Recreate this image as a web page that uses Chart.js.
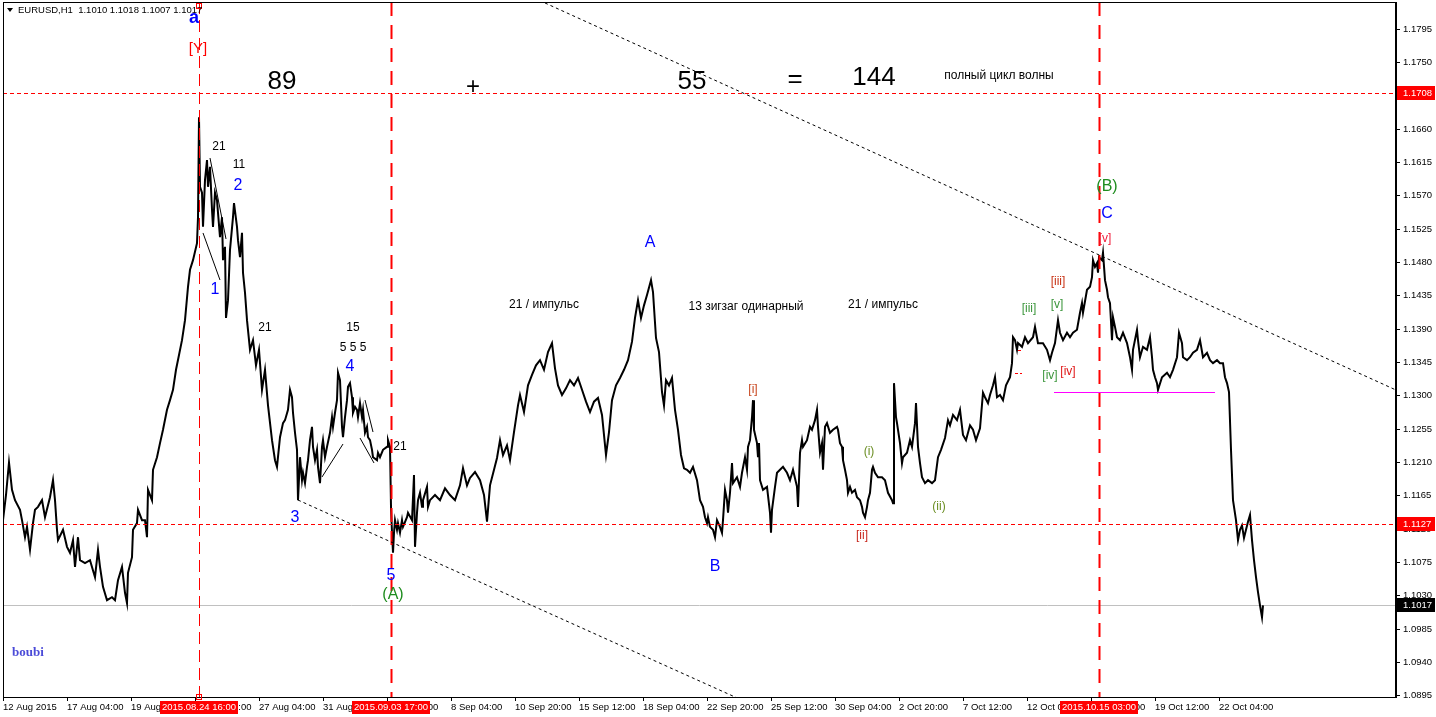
<!DOCTYPE html>
<html>
<head>
<meta charset="utf-8">
<script src="https://cdn.jsdelivr.net/npm/chart.js@4.4.0/dist/chart.umd.min.js"></script>
<style>
  html, body { margin: 0; padding: 0; background: #fff; }
  canvas { display: block; }
</style>
</head>
<body>
<canvas id="c" width="1436" height="717"></canvas>
<script>
// EURUSD H1, bar index counted from 12 Aug 2015 00:00, price
const bars = [
  0,3,6,9,12,17,19,22,24,27,
  30,32,35,39,42,47,50,52,54,55,
  60,64,67,70,72,75,77,82,87,92,
  95,97,100,104,109,112,115,119,122,124,
  125,129,130,134,135,139,142,144,145,149,
  150,154,157,160,164,167,170,173,176,179,
  182,185,187,190,194,195,196,197,199,200,
  202,204,205,207,209,210,212,214,215,217,
  219,220,222,223,225,227,230,231,234,235,
  237,239,240,242,244,247,250,253,256,259,
  262,265,269,272,274,277,280,282,285,287,
  289,290,292,294,295,297,299,300,302,304,
  305,307,309,310,312,314,315,317,319,320,
  322,324,327,329,330,332,334,335,337,339,
  340,342,344,345,347,349,350,352,354,355,
  357,359,360,362,364,365,367,369,370,374,
  375,377,380,384,385,387,388,389,390,391,
  392,394,395,397,399,400,404,405,409,411,
  412,414,415,417,419,420,424,425,427,432,
  437,442,447,452,457,460,464,467,472,477,
  481,484,487,491,494,497,500,504,507,511,
  515,517,521,525,529,533,537,541,545,549,
  552,555,559,563,567,571,575,579,583,587,
  591,595,599,603,606,609,613,617,621,625,
  629,632,635,638,641,644,648,650,653,656,
  659,661,663,666,669,672,675,678,681,684,
  687,690,694,697,700,702,704,705,707,710,
  712,714,717,719,720,722,724,725,727,729,
  730,734,737,739,742,744,745,747,749,750,
  751,754,755,756,757,760,764,767,768,769,
  772,774,777,780,784,787,790,794,795,797,
  799,800,804,807,809,812,814,815,817,819,
  820,822,824,827,830,834,835,837,839,840,
  842,844,845,847,849,852,854,857,859,860,
  862,864,865,867,869,870,872,875,879,882,
  885,889,890,891,893,894,897,899,900,904,
  907,909,912,913,915,917,919,922,925,929,
  932,935,938,942,945,947,950,954,957,960,
  963,967,970,973,977,980,982,985,987,990,
  992,994,997,1000,1003,1007,1009,1010,1012,1014,
  1015,1019,1022,1025,1030,1032,1035,1040,1044,1047,
  1049,1052,1055,1057,1060,1064,1067,1070,1074,1077,
  1079,1080,1084,1087,1089,1090,1092,1094,1095,1096,
  1099,1100,1102,1104,1105,1107,1109,1110,1112,1114,
  1117,1120,1124,1127,1129,1130,1134,1135,1137,1140,
  1144,1147,1149,1150,1152,1154,1155,1159,1164,1167,
  1170,1174,1176,1179,1180,1184,1187,1190,1194,1197,
  1200,1204,1207,1210,1214,1217,1220,1222,1224,1226,
  1228,1230,1233,1235,1237,1239,1241,1243,1245,1247,
  1249,1251,1253,1255,1257,1259,1260
];
const prices = [
  1.1132,1.1166,1.1210,1.1173,1.1159,1.1146,1.1132,1.1109,1.1123,1.1092,
  1.1128,1.1146,1.1150,1.1159,1.1136,1.1163,1.1186,1.1159,1.1119,1.1105,
  1.1119,1.1096,1.1088,1.1105,1.1069,1.1109,1.1078,1.1074,1.1078,1.1055,
  1.1092,1.1069,1.1042,1.1024,1.1028,1.1024,1.1051,1.1069,1.1034,1.1020,
  1.1061,1.1082,1.1119,1.1128,1.1146,1.1132,1.1132,1.1109,1.1173,1.1159,
  1.1200,1.1217,1.1236,1.1254,1.1281,1.1294,1.1308,1.1335,1.1355,1.1375,
  1.1402,1.1447,1.1470,1.1483,1.1506,1.1541,1.1676,1.1582,1.1574,1.1528,
  1.1591,1.1618,1.1582,1.1609,1.1551,1.1528,1.1574,1.1564,1.1547,1.1514,
  1.1541,1.1483,1.1501,1.1405,1.1429,1.1497,1.1541,1.1560,1.1528,1.1510,
  1.1487,1.1520,1.1466,1.1439,1.1402,1.1362,1.1375,1.1341,1.1362,1.1308,
  1.1335,1.1287,1.1240,1.1213,1.1204,1.1244,1.1263,1.1267,1.1281,1.1308,
  1.1298,1.1277,1.1250,1.1227,1.1159,1.1217,1.1186,1.1196,1.1182,1.1204,
  1.1213,1.1240,1.1258,1.1231,1.1213,1.1227,1.1204,1.1182,1.1231,1.1240,
  1.1217,1.1231,1.1250,1.1271,1.1258,1.1277,1.1294,1.1331,1.1321,1.1258,
  1.1244,1.1271,1.1294,1.1312,1.1317,1.1298,1.1277,1.1285,1.1281,1.1271,
  1.1290,1.1271,1.1281,1.1250,1.1258,1.1244,1.1240,1.1227,1.1217,1.1213,
  1.1223,1.1217,1.1227,1.1231,1.1240,1.1231,1.1150,1.1115,1.1088,1.1115,
  1.1132,1.1119,1.1128,1.1115,1.1132,1.1123,1.1136,1.1142,1.1132,1.1193,
  1.1096,1.1142,1.1159,1.1169,1.1150,1.1159,1.1177,1.1150,1.1159,1.1166,
  1.1159,1.1175,1.1166,1.1159,1.1179,1.1202,1.1179,1.1189,1.1197,1.1186,
  1.1166,1.1130,1.1179,1.1200,1.1216,1.1240,1.1220,1.1233,1.1213,1.1251,
  1.1287,1.1301,1.1278,1.1314,1.1328,1.1341,1.1348,1.1335,1.1359,1.1371,
  1.1337,1.1314,1.1301,1.1310,1.1321,1.1314,1.1324,1.1308,1.1292,1.1278,
  1.1292,1.1297,1.1274,1.1220,1.1251,1.1294,1.1314,1.1324,1.1335,1.1348,
  1.1373,1.1405,1.1429,1.1405,1.1422,1.1436,1.1456,1.1440,1.1378,1.1359,
  1.1305,1.1287,1.1321,1.1314,1.1324,1.1281,1.1254,1.1220,1.1202,1.1200,
  1.1196,1.1204,1.1186,1.1159,1.1150,1.1136,1.1128,1.1136,1.1123,1.1119,
  1.1109,1.1132,1.1123,1.1115,1.1132,1.1173,1.1159,1.1142,1.1169,1.1209,
  1.1182,1.1190,1.1177,1.1196,1.1217,1.1200,1.1231,1.1240,1.1271,1.1294,
  1.1254,1.1236,1.1217,1.1236,1.1186,1.1173,1.1177,1.1142,1.1115,1.1146,
  1.1177,1.1196,1.1200,1.1204,1.1196,1.1186,1.1200,1.1177,1.1150,1.1223,
  1.1240,1.1231,1.1240,1.1258,1.1254,1.1267,1.1281,1.1258,1.1223,1.1236,
  1.1200,1.1258,1.1263,1.1250,1.1254,1.1258,1.1254,1.1236,1.1231,1.1213,
  1.1200,1.1186,1.1169,1.1177,1.1169,1.1173,1.1163,1.1159,1.1150,1.1142,
  1.1136,1.1150,1.1159,1.1169,1.1200,1.1204,1.1196,1.1190,1.1190,1.1186,
  1.1169,1.1159,1.1155,1.1317,1.1271,1.1263,1.1236,1.1209,1.1217,1.1223,
  1.1240,1.1231,1.1263,1.1290,1.1231,1.1209,1.1190,1.1182,1.1186,1.1182,
  1.1186,1.1217,1.1227,1.1243,1.1267,1.1260,1.1274,1.1267,1.1281,1.1247,
  1.1240,1.1260,1.1254,1.1240,1.1256,1.1304,1.1298,1.1290,1.1301,1.1314,
  1.1325,1.1298,1.1301,1.1294,1.1314,1.1325,1.1344,1.1379,1.1375,1.1362,
  1.1371,1.1366,1.1379,1.1371,1.1379,1.1393,1.1371,1.1371,1.1362,1.1348,
  1.1358,1.1371,1.1402,1.1385,1.1375,1.1385,1.1379,1.1385,1.1389,1.1412,
  1.1425,1.1412,1.1443,1.1447,1.1460,1.1483,1.1474,1.1479,1.1466,1.1487,
  1.1483,1.1493,1.1456,1.1443,1.1433,1.1425,1.1375,1.1406,1.1393,1.1379,
  1.1375,1.1385,1.1371,1.1352,1.1335,1.1362,1.1389,1.1375,1.1352,1.1366,
  1.1362,1.1379,1.1352,1.1335,1.1325,1.1317,1.1308,1.1325,1.1331,1.1325,
  1.1335,1.1352,1.1385,1.1371,1.1352,1.1348,1.1352,1.1358,1.1362,1.1375,
  1.1352,1.1358,1.1348,1.1344,1.1348,1.1344,1.1344,1.1325,1.1317,1.1305,
  1.1227,1.1159,1.1132,1.1105,1.1119,1.1125,1.1108,1.1119,1.1130,1.1139,
  1.1105,1.1078,1.1055,1.1035,1.1017,1.1001,1.1017
];

const timeTicks = [0,64,128,192,256,320,384,448,512,576,640,704,768,832,896,960,1024,1088,1152,1216];
const timeLabels = ['12 Aug 2015','17 Aug 04:00','19 Aug 20:00','24 Aug 12:00','27 Aug 04:00','31 Aug 20:00',
  '3 Sep 12:00','8 Sep 04:00','10 Sep 20:00','15 Sep 12:00','18 Sep 04:00','22 Sep 20:00','25 Sep 12:00',
  '30 Sep 04:00','2 Oct 20:00','7 Oct 12:00','12 Oct 04:00','14 Oct 20:00','19 Oct 12:00','22 Oct 04:00'];
const priceTicks = [1.0895,1.0940,1.0985,1.1030,1.1075,1.1120,1.1165,1.1210,1.1255,1.1300,1.1345,
  1.1390,1.1435,1.1480,1.1525,1.1570,1.1615,1.1660,1.1705,1.1750,1.1795];

const levelPrices = [1.1708, 1.1127];
const lastPrice = 1.1017;
const markBars = [196, 388, 1096];
const markLabels = ['2015.08.24 16:00', '2015.09.03 17:00', '2015.10.15 03:00'];
const header = 'EURUSD,H1  1.1010 1.1018 1.1007 1.1017';

// wave labelling: text, bar, price, colour, font
const notes = [
  ['a', 191, 1.18099, '#0000ff', 'bold 18px'],
  ['[Y]', 195, 1.17681, '#ff0000', '15px'],
  ['89', 279, 1.17235, '#000', '26px'],
  ['+', 470, 1.17168, '#000', '24px'],
  ['55', 689, 1.17235, '#000', '26px'],
  ['=', 792, 1.17262, '#000', '26px'],
  ['144', 871, 1.17289, '#000', '26px'],
  ['полный цикл волны', 996, 1.17316, '#000', '12px'],
  ['21', 216, 1.16358, '#000', '12px'],
  ['11', 236, 1.16115, '#000', '12px'],
  ['2', 235, 1.15831, '#0000ff', '16px'],
  ['1', 212, 1.14427, '#0000ff', '16px'],
  ['21', 262, 1.13914, '#000', '12px'],
  ['15', 350, 1.13914, '#000', '12px'],
  ['5 5 5', 350, 1.13644, '#000', '12px'],
  ['4', 347, 1.13388, '#0000ff', '16px'],
  ['21', 397, 1.12308, '#000', '12px'],
  ['3', 292, 1.11349, '#0000ff', '16px'],
  ['5', 388, 1.10566, '#0000ff', '16px'],
  ['(A)', 390, 1.10310, '#1e8c1e', '16px'],
  ['21 / импульс', 541, 1.14225, '#000', '12px'],
  ['A', 647, 1.15062, '#0000ff', '16px'],
  ['13 зигзаг одинарный', 743, 1.14198, '#000', '12px'],
  ['21 / импульс', 880, 1.14225, '#000', '12px'],
  ['[i]', 750, 1.13077, '#c8461e', '12px'],
  ['B', 712, 1.10688, '#0000ff', '16px'],
  ['[ii]', 859, 1.11106, '#c8281e', '12px'],
  ['(i)', 866, 1.12240, '#6b8e23', '12px'],
  ['(ii)', 936, 1.11498, '#6b8e23', '12px'],
  ['[iii]', 1026, 1.14171, '#3c963c', '12px'],
  ['[v]', 1054, 1.14225, '#3c963c', '12px'],
  ['[iv]', 1047, 1.13266, '#3c963c', '12px'],
  ['[iv]', 1065, 1.13320, '#e01818', '12px'],
  ['[iii]', 1055, 1.14535, '#c83214', '12px'],
  ['[v]', 1102, 1.15116, '#f01e3c', '12px'],
  ['C', 1104, 1.15453, '#0000ff', '16px'],
  ['(B)', 1104, 1.15818, '#1e8c1e', '16px']
];

// channel rays and hand-drawn wave lines: [bar1, price1, bar2, price2]
const rays = [[542, 1.18302, 1393, 1.13077], [295, 1.11592, 732, 1.08933]];
const segs = [
  [207, 1.16209, 223, 1.15116], [200, 1.15197, 217, 1.14562],
  [319, 1.11903, 340, 1.12348], [357, 1.12429, 371, 1.12092], [362, 1.12942, 370, 1.12510]
];
const magenta = [1051, 1212, 1.1305];
const redTicks = [[1012, 1019, 1.13307], [1015, 1018, 1.13617]];

const FONT = "'Liberation Sans', Arial, sans-serif";
Chart.defaults.font.family = FONT;

const overlay = {
  id: 'overlay',
  beforeDatasetsDraw(chart) {
    const {ctx, chartArea: a, scales: {y}} = chart;
    const yy = Math.round(y.getPixelForValue(lastPrice)) + 0.5;
    ctx.save();
    ctx.strokeStyle = '#c0c0c0';
    ctx.lineWidth = 1;
    ctx.beginPath(); ctx.moveTo(a.left, yy); ctx.lineTo(a.right, yy); ctx.stroke();
    ctx.restore();
  },
  afterDatasetsDraw(chart) {
    const {ctx, chartArea: a, scales: {x, y}} = chart;
    const px = b => x.getPixelForValue(b);
    const py = p => y.getPixelForValue(p);
    ctx.save();
    ctx.beginPath(); ctx.rect(a.left, a.top, a.right - a.left, a.bottom - a.top); ctx.clip();

    // horizontal levels
    ctx.strokeStyle = '#ff0000'; ctx.lineWidth = 1; ctx.setLineDash([4, 3]);
    levelPrices.forEach(p => {
      const yy = Math.round(py(p)) + 0.5;
      ctx.beginPath(); ctx.moveTo(a.left, yy); ctx.lineTo(a.right, yy); ctx.stroke();
    });

    // vertical time marks
    markBars.forEach((b, i) => {
      const xx = Math.round(px(b)) + 0.5;
      ctx.lineWidth = i === 0 ? 1 : 2;
      ctx.setLineDash(i === 0 ? [12, 6] : [14, 9]);
      ctx.beginPath(); ctx.moveTo(xx, a.top); ctx.lineTo(xx, a.bottom); ctx.stroke();
    });

    // channel rays
    ctx.strokeStyle = '#000'; ctx.lineWidth = 1; ctx.setLineDash([3, 3]);
    rays.forEach(([b1, p1, b2, p2]) => {
      const x1 = px(b1), y1 = py(p1), x2 = px(b2), y2 = py(p2);
      const k = 3;
      ctx.beginPath(); ctx.moveTo(x1, y1); ctx.lineTo(x1 + (x2 - x1) * k, y1 + (y2 - y1) * k); ctx.stroke();
    });

    // wave lines
    ctx.setLineDash([]);
    segs.forEach(([b1, p1, b2, p2]) => {
      ctx.beginPath(); ctx.moveTo(px(b1), py(p1)); ctx.lineTo(px(b2), py(p2)); ctx.stroke();
    });

    ctx.strokeStyle = '#ff00ff';
    const my = Math.round(py(magenta[2])) + 0.5;
    ctx.beginPath(); ctx.moveTo(px(magenta[0]), my); ctx.lineTo(px(magenta[1]), my); ctx.stroke();

    ctx.strokeStyle = '#ff0000'; ctx.setLineDash([3, 2]);
    redTicks.forEach(([b1, b2, p]) => {
      const yy = Math.round(py(p)) + 0.5;
      ctx.beginPath(); ctx.moveTo(px(b1), yy); ctx.lineTo(px(b2), yy); ctx.stroke();
    });
    ctx.setLineDash([]);

    // labels
    ctx.textAlign = 'center'; ctx.textBaseline = 'middle';
    notes.forEach(([t, b, p, c, f]) => {
      ctx.fillStyle = c;
      ctx.font = f + ' ' + FONT;
      ctx.fillText(t, px(b), py(p));
    });
    ctx.restore();
  },
  afterDraw(chart) {
    const {ctx, chartArea: a, scales: {x, y}} = chart;
    ctx.save();
    // frame
    ctx.strokeStyle = '#000'; ctx.lineWidth = 1;
    ctx.strokeRect(a.left + 0.5, a.top + 0.5, a.right - a.left - 1, a.bottom - a.top);

    // anchor squares on the selected line
    const sx = Math.round(x.getPixelForValue(markBars[0]));
    ctx.strokeStyle = '#ff0000';
    ctx.strokeRect(sx - 2.5, a.top + 1.5, 5, 5);
    ctx.strokeRect(sx - 2.5, a.bottom - 2.5, 5, 5);

    // price boxes on the axis
    ctx.font = '9.5px ' + FONT;
    ctx.textAlign = 'left'; ctx.textBaseline = 'middle';
    const box = (p, bg) => {
      const yy = Math.round(y.getPixelForValue(p));
      ctx.fillStyle = bg;
      ctx.fillRect(a.right + 1, yy - 7, 38, 14);
      ctx.fillStyle = '#fff';
      ctx.fillText(p.toFixed(4), a.right + 7, yy);
    };
    levelPrices.forEach(p => box(p, '#ff0000'));
    box(lastPrice, '#000');

    // time boxes on the axis
    ctx.textAlign = 'center';
    markBars.forEach((b, i) => {
      const xx = Math.round(x.getPixelForValue(b));
      ctx.fillStyle = '#ff0000';
      ctx.fillRect(xx - 39, a.bottom + 4, 78, 13);
      ctx.fillStyle = '#fff';
      ctx.fillText(markLabels[i], xx, a.bottom + 10.5);
    });

    // header
    ctx.fillStyle = '#000';
    ctx.beginPath(); ctx.moveTo(7, 8); ctx.lineTo(13, 8); ctx.lineTo(10, 12); ctx.closePath(); ctx.fill();
    ctx.textAlign = 'left';
    ctx.font = '9.5px ' + FONT;
    ctx.fillText(header, 18, 10);

    ctx.fillStyle = '#4b4bd8';
    ctx.font = "bold 13px 'Liberation Serif', serif";
    ctx.fillText('boubi', 12, 653);
    ctx.restore();
  }
};

new Chart(document.getElementById('c'), {
  type: 'line',
  data: {
    datasets: [{
      data: bars.map((b, i) => ({x: b, y: prices[i]})),
      borderColor: '#000',
      borderWidth: 2,
      pointRadius: 0,
      tension: 0,
      fill: false
    }]
  },
  options: {
    responsive: false,
    animation: false,
    devicePixelRatio: 1,
    layout: { padding: { left: 3, top: 2, right: 0, bottom: 0 } },
    plugins: { legend: { display: false }, tooltip: { enabled: false } },
    scales: {
      x: {
        type: 'linear', position: 'bottom', min: 0, max: 1393,
        grid: { drawOnChartArea: false, tickLength: 4, color: '#000' },
        border: { color: '#000' },
        ticks: {
          align: 'start', maxRotation: 0, autoSkip: false, padding: 1, color: '#000',
          font: { size: 9.5 },
          callback: (v, i) => timeLabels[i]
        },
        afterBuildTicks: s => { s.ticks = timeTicks.map(v => ({ value: v })); },
        afterFit: s => { s.height = 20; s.paddingLeft = 0; s.paddingRight = 0; }
      },
      y: {
        type: 'linear', position: 'right', min: 1.08933, max: 1.18315,
        grid: { drawOnChartArea: false, tickLength: 4, color: '#000' },
        border: { color: '#000' },
        ticks: {
          padding: 3, color: '#000', font: { size: 9.5 },
          callback: v => Number(v).toFixed(4)
        },
        afterBuildTicks: s => { s.ticks = priceTicks.map(v => ({ value: v })); },
        afterFit: s => { s.width = 40; s.paddingTop = 0; s.paddingBottom = 0; }
      }
    }
  },
  plugins: [overlay]
});
</script>
</body>
</html>
